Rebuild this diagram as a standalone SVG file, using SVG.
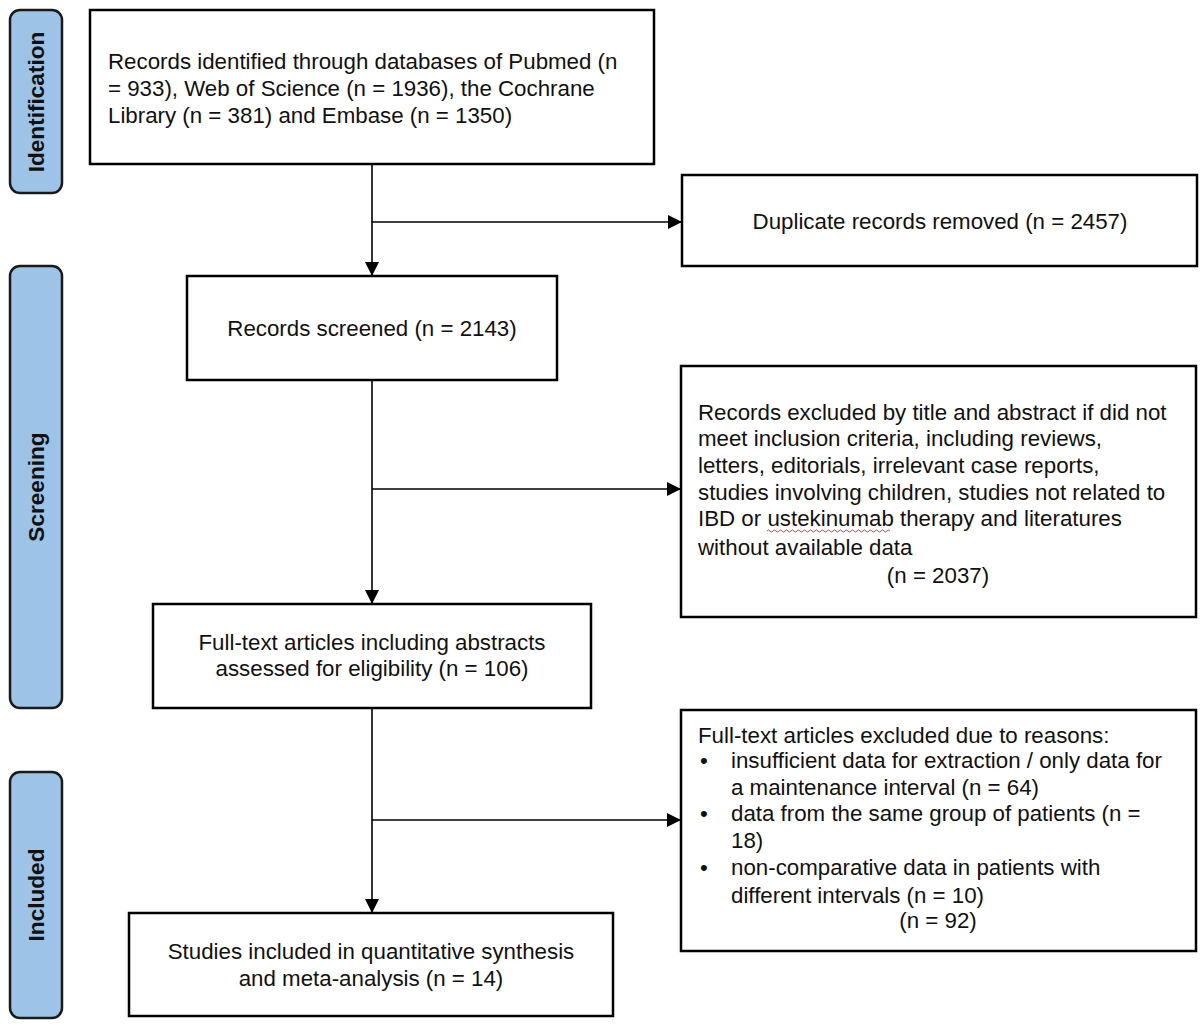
<svg xmlns="http://www.w3.org/2000/svg" width="1200" height="1024" viewBox="0 0 1200 1024">
<defs>
<style>
.box{fill:#fff;stroke:#000;stroke-width:2.5}
.side{fill:#9dc3e6;stroke:#1a1a1a;stroke-width:2.5}
.t{font-family:"Liberation Sans",Arial,sans-serif;font-size:22.3px;fill:#111}
.c{text-anchor:middle}
.s{font-family:"Liberation Sans",Arial,sans-serif;font-size:22.6px;font-weight:bold;fill:#111;text-anchor:middle}
.ln{stroke:#000;stroke-width:1.6;fill:none}
</style>
<marker id="ah" viewBox="0 0 14 14" refX="14" refY="7" markerWidth="14" markerHeight="14" markerUnits="userSpaceOnUse" orient="auto">
<path d="M0,0 L14,7 L0,14 Z" fill="#000"/>
</marker>
</defs>
<rect width="1200" height="1024" fill="#fff"/>
<g id="side-identification">
<rect class="side" x="10" y="10" width="52" height="183" rx="10"/>
<text class="s" transform="translate(44,102) rotate(-90)">Identification</text>
</g>
<g id="side-screening">
<rect class="side" x="10" y="266" width="52" height="442" rx="10"/>
<text class="s" transform="translate(44,487) rotate(-90)">Screening</text>
</g>
<g id="side-included">
<rect class="side" x="10" y="772" width="52" height="246" rx="10"/>
<text class="s" transform="translate(44,895) rotate(-90)">Included</text>
</g>
<g id="connectors">
<line class="ln" x1="372" y1="164" x2="372" y2="276" marker-end="url(#ah)"/>
<line class="ln" x1="372" y1="222" x2="682" y2="222" marker-end="url(#ah)"/>
<line class="ln" x1="372" y1="380" x2="372" y2="604" marker-end="url(#ah)"/>
<line class="ln" x1="372" y1="489" x2="681" y2="489" marker-end="url(#ah)"/>
<line class="ln" x1="372" y1="708" x2="372" y2="913" marker-end="url(#ah)"/>
<line class="ln" x1="372" y1="820" x2="681" y2="820" marker-end="url(#ah)"/>
</g>
<g id="n-identified">
<rect class="box" x="90" y="10" width="564" height="154"/>
<text class="t" x="108" y="69">Records identified through databases of Pubmed (n</text>
<text class="t" x="108" y="96">= 933), Web of Science (n = 1936), the Cochrane</text>
<text class="t" x="108" y="123">Library (n = 381) and Embase (n = 1350)</text>
</g>
<g id="n-duplicates">
<rect class="box" x="682" y="175" width="515" height="91"/>
<text class="t c" x="940" y="229">Duplicate records removed (n = 2457)</text>
</g>
<g id="n-screened">
<rect class="box" x="187" y="276" width="370" height="104"/>
<text class="t c" x="372" y="336">Records screened (n = 2143)</text>
</g>
<g id="n-excluded-title">
<rect class="box" x="681" y="366" width="515" height="251"/>
<text class="t" x="698" y="420">Records excluded by title and abstract if did not</text>
<text class="t" x="698" y="446">meet inclusion criteria, including reviews,</text>
<text class="t" x="698" y="473">letters, editorials, irrelevant case reports,</text>
<text class="t" x="698" y="500">studies involving children, studies not related to</text>
<text class="t" x="698" y="526">IBD or ustekinumab therapy and literatures</text>
<path d="M767,531 q1.5,-2 3,0 t3,0 t3,0 t3,0 t3,0 t3,0 t3,0 t3,0 t3,0 t3,0 t3,0 t3,0 t3,0 t3,0 t3,0 t3,0 t3,0 t3,0 t3,0 t3,0 t3,0 t3,0 t3,0 t3,0 t3,0 t3,0 t3,0 t3,0 t3,0 t3,0 t3,0 t3,0 t3,0 t3,0 t3,0 t3,0 t3,0 t3,0 t3,0 t3,0 t3,0" fill="none" stroke="#d04040" stroke-width="1"/>
<text class="t" x="698" y="555">without available data</text>
<text class="t c" x="938" y="583">(n = 2037)</text>
</g>
<g id="n-fulltext">
<rect class="box" x="153" y="604" width="438" height="104"/>
<text class="t c" x="372" y="650">Full-text articles including abstracts</text>
<text class="t c" x="372" y="676">assessed for eligibility (n = 106)</text>
</g>
<g id="n-excluded-fulltext">
<rect class="box" x="681" y="710" width="515" height="241"/>
<text class="t" x="698" y="743">Full-text articles excluded due to reasons:</text>
<text class="t" x="700" y="768">•</text>
<text class="t" x="731" y="768">insufficient data for extraction / only data for</text>
<text class="t" x="731" y="795">a maintenance interval (n = 64)</text>
<text class="t" x="700" y="821">•</text>
<text class="t" x="731" y="821">data from the same group of patients (n =</text>
<text class="t" x="731" y="848">18)</text>
<text class="t" x="700" y="875">•</text>
<text class="t" x="731" y="875">non-comparative data in patients with</text>
<text class="t" x="731" y="903">different intervals (n = 10)</text>
<text class="t c" x="938" y="928">(n = 92)</text>
</g>
<g id="n-included">
<rect class="box" x="129" y="913" width="484" height="103"/>
<text class="t c" x="371" y="959">Studies included in quantitative synthesis</text>
<text class="t c" x="371" y="986">and meta-analysis (n = 14)</text>
</g>
</svg>
